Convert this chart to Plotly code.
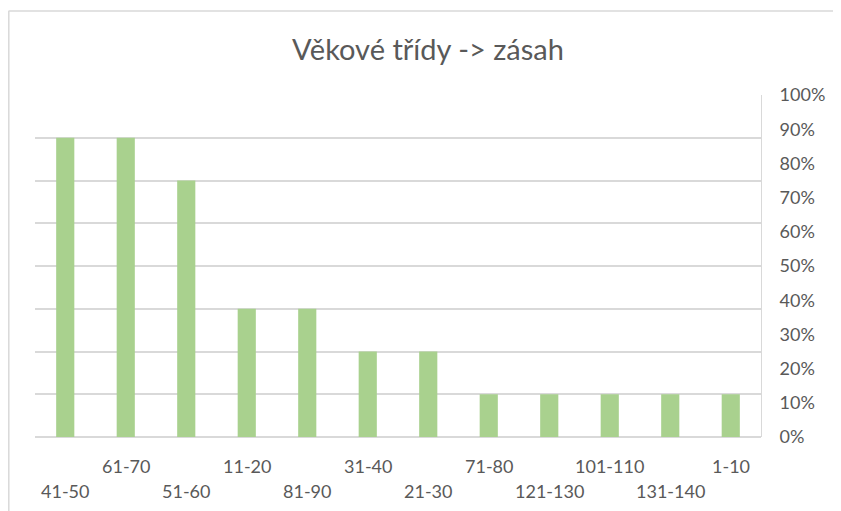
import plotly.graph_objects as go

categories = ["41-50", "61-70", "51-60", "11-20", "81-90", "31-40",
              "21-30", "71-80", "121-130", "101-110", "131-140", "1-10"]
counts = [7, 7, 6, 3, 3, 2, 2, 1, 1, 1, 1, 1]
pct_ticks = [0, 0.1, 0.2, 0.3, 0.4, 0.5, 0.6, 0.7, 0.8, 0.9, 1.0]

# page body has an 8px margin, so work in screen pixels and shift back
OFF = 8
W, H = 841, 511
L, R, T, B = 35 - OFF, 80 + OFF, 95 - OFF, 74 + OFF
plot_w, plot_h = W - L - R, H - T - B
FONT = "Lato, Carlito, Calibri, sans-serif"
GREY = "#595959"
GRID = "#D9D9D9"


def px_x(px):
    # screen pixel -> paper x
    return (px - OFF - L) / plot_w


def px_y(py):
    # screen pixel -> paper y
    return (H - B - (py - OFF)) / plot_h


fig = go.Figure()
fig.add_trace(go.Bar(x=categories, y=counts, marker_color="#A9D18E",
                     marker_line_width=0, yaxis="y"))
# invisible trace so the secondary axis shows
fig.add_trace(go.Scatter(x=[categories[0]], y=[0], yaxis="y2", mode="markers",
                         marker={"opacity": 0}, hoverinfo="skip", showlegend=False))

annotations = []
for i, cat in enumerate(categories):
    row_px = 491 if i % 2 == 0 else 466
    annotations.append(dict(x=cat, xref="x", y=px_y(row_px), yref="paper",
                            text=cat, showarrow=False, yanchor="middle",
                            font={"size": 18, "color": GREY, "family": FONT}))

fig.update_layout(
    width=W, height=H,
    margin={"l": L, "r": R, "t": T, "b": B},
    plot_bgcolor="white", paper_bgcolor="white",
    showlegend=False, bargap=0.7,
    title={"text": "Věkové třídy -> zásah", "x": (428 - OFF) / W, "xanchor": "center",
           "y": 1 - (50 - OFF) / H, "yanchor": "middle",
           "font": {"size": 29, "color": GREY, "family": FONT}},
    font={"family": FONT, "color": GREY},
    xaxis={"range": [-0.5, len(categories) - 0.5], "showticklabels": False,
           "showgrid": False, "showline": False, "zeroline": False, "ticks": ""},
    yaxis={"range": [0, 8], "dtick": 1, "showticklabels": False,
           "showgrid": True, "gridcolor": GRID, "gridwidth": 1.5,
           "zeroline": True, "zerolinecolor": GRID, "zerolinewidth": 1.5},
    yaxis2={"overlaying": "y", "side": "right", "range": [0, 1],
            "tickvals": pct_ticks, "tickformat": ".0%", "showgrid": False,
            "zeroline": False, "showline": True, "linecolor": GRID,
            "ticks": "", "ticklabelstandoff": 14, "automargin": False,
            "tickfont": {"size": 18, "color": GREY, "family": FONT}},
    annotations=annotations,
    shapes=[
        dict(type="line", xref="paper", yref="paper", x0=px_x(8.5), x1=px_x(W + 20),
             y0=px_y(11), y1=px_y(11), line={"color": GRID, "width": 1.5}),
        dict(type="line", xref="paper", yref="paper", x0=px_x(8.8), x1=px_x(8.8),
             y0=px_y(11), y1=px_y(H + 20), line={"color": GRID, "width": 1.5}),
    ],
)

fig.write_html("out.html")
